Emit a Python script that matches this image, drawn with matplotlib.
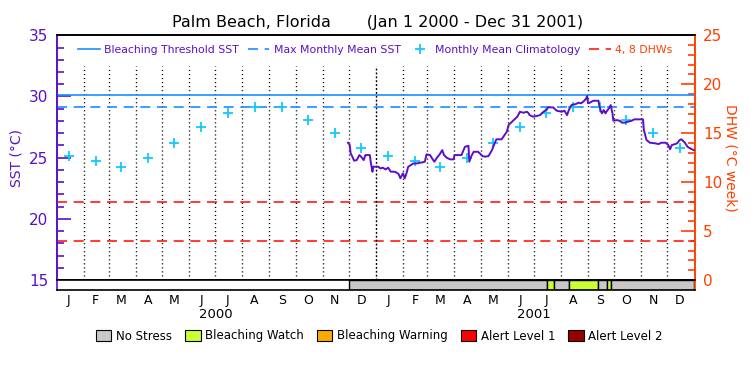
import numpy as np
import pandas as pd
import matplotlib
matplotlib.use('Agg')
import matplotlib.pyplot as plt
import matplotlib.transforms as mtransforms
from matplotlib.ticker import MultipleLocator
from matplotlib.patches import Patch

PURPLE = '#5a10c8'
ORANGE = '#ff4000'
BLUE = '#1a8cff'
CYAN = '#14c8ff'
RED = '#ff1a1a'

# monthly mean climatology (same both years)
clim = [25.13, 24.70, 24.26, 24.94, 26.20, 27.48, 28.69, 29.11, 29.11, 28.06, 26.99, 25.81]
mmm = 29.11
threshold = 30.10
dhw_levels = [4, 8]

# SST: days since 2000-01-01, degC
sst_day = [334, 336, 337, 339, 341, 344, 347, 349, 352, 354, 359, 360, 362, 363, 369, 371,
           374, 377, 380, 383, 388, 392, 394, 396, 397, 399, 401, 403, 406, 409, 413, 416,
           419, 422, 424, 428, 431, 433, 436, 439, 442, 444, 447, 451, 455, 456, 464, 468,
           472, 473, 475, 478, 483, 485, 488, 491, 495, 499, 502, 504, 510, 512, 516, 518,
           522, 525, 528, 531, 535, 539, 541, 542, 546, 550, 554, 558, 562, 563, 569, 573,
           579, 582, 585, 587, 590, 595, 598, 601, 604, 607, 608, 609, 611, 615, 621, 622,
           624, 625, 627, 629, 630, 633, 635, 636, 637, 638, 642, 645, 648, 651, 655, 659,
           662, 672, 673, 676, 680, 686, 690, 693, 698, 701, 703, 705, 709, 711, 714, 716,
           720, 723, 726, 730]
sst_val = [26.22, 26.03, 25.35, 25.08, 24.75, 24.80, 25.21, 25.08, 24.80, 25.21, 25.21, 24.67,
           23.85, 24.26, 24.26, 24.12, 24.18, 24.04, 24.18, 23.85, 23.85, 23.66, 23.31, 23.58,
           23.72, 23.31, 23.72, 24.26, 24.39, 24.53, 24.53, 24.58, 24.61, 24.67, 25.27, 25.21,
           24.86, 24.67, 25.01, 25.27, 25.62, 25.21, 25.00, 24.86, 24.86, 25.21, 25.21, 25.89,
           25.97, 24.67, 25.08, 25.48, 25.48, 25.35, 25.13, 25.08, 25.13, 25.62, 26.17, 26.50,
           26.50, 26.71, 27.12, 27.67, 27.94, 28.13, 28.35, 28.75, 28.67, 28.75, 28.62, 28.48,
           28.35, 28.40, 28.48, 28.75, 28.95, 29.11, 29.11, 28.84, 28.75, 28.84, 28.48, 28.89,
           29.30, 29.38, 29.49, 29.44, 29.60, 29.85, 30.04, 29.44, 29.49, 29.65, 29.65, 29.22,
           28.75, 28.62, 28.89, 28.62, 28.75, 29.03, 29.30, 28.95, 28.62, 28.02, 28.07, 28.02,
           27.86, 27.86, 27.94, 28.02, 28.13, 28.13, 27.26, 26.44, 26.22, 26.17, 26.11, 26.22,
           26.22, 26.03, 25.68, 26.03, 26.11, 26.17, 26.44, 26.50, 26.22, 25.89, 25.76, 25.62]

# stress bar segments
stress_start = ['2000-12-01', '2001-07-16', '2001-07-24', '2001-08-10', '2001-09-13', '2001-09-23', '2001-09-27']
stress_end = ['2001-07-16', '2001-07-24', '2001-08-10', '2001-09-13', '2001-09-23', '2001-09-27', '2002-01-01']
stress_level = [0, 1, 0, 1, 0, 1, 0]

stress_names = ['No Stress', 'Bleaching Watch', 'Bleaching Warning', 'Alert Level 1', 'Alert Level 2']
stress_colors = ['#c8c8c8', '#ccff33', '#ffaa00', '#ff0000', '#990000']
month_letters = ['J', 'F', 'M', 'A', 'M', 'J', 'J', 'A', 'S', 'O', 'N', 'D']
years = [2000, 2001]

t0 = pd.Timestamp('2000-01-01')
t1 = pd.Timestamp('2002-01-01')
sst_dates = t0 + pd.to_timedelta(sst_day, unit='D')
mid_months = [pd.Timestamp(y, m, 15) for y in years for m in range(1, 13)]
month_starts = pd.date_range('2000-02-01', '2001-12-01', freq='MS')

fig = plt.figure(figsize=(7.5, 3.75), dpi=100)
L, R = 56.5 / 750, 694.5 / 750
top, bot, barbot = 1 - 35.3 / 375, 1 - 280 / 375, 1 - 290 / 375
ax = fig.add_axes([L, bot, R - L, top - bot])
ax2 = ax.twinx()
bax = fig.add_axes([L, barbot, R - L, bot - barbot])

ax.set_xlim(t0, t1)
bax.set_xlim(t0, t1)
ax.set_ylim(15, 35)
ax2.set_ylim(0, 25)

# month dividers
for d in month_starts:
    if d == pd.Timestamp('2001-01-01'):
        ls = (0, (1.4, 1.4))
    else:
        ls = (0, (0.8, 2.1))
    ax.plot([d, d], [15, 32.5], color='k', lw=1, ls=ls, zorder=1)

h_thr = ax.axhline(threshold, color=BLUE, lw=1.2, zorder=2)
h_mmm = ax.axhline(mmm, color=BLUE, lw=1.2, ls=(0, (6, 4)), zorder=2)
h_dhw = None
for lev in dhw_levels:
    h_dhw = ax2.axhline(lev, color=RED, lw=1.2, ls=(0, (6, 4)), zorder=2)
h_clim, = ax.plot(mid_months, clim * 2, ls='none', marker='+', ms=7.5, mew=1.3, color=CYAN, zorder=3)
ax.plot(sst_dates, sst_val, color=PURPLE, lw=1.4, zorder=4)

# axis styling
ax.tick_params(axis='x', which='both', length=0, labelbottom=False)
ax2.tick_params(axis='x', which='both', length=0, labelbottom=False)
ax.yaxis.set_major_locator(MultipleLocator(5))
ax.yaxis.set_minor_locator(MultipleLocator(1))
ax.tick_params(axis='y', which='major', direction='in', length=10, width=1.2, colors=PURPLE, labelsize=11, pad=6)
ax.tick_params(axis='y', which='minor', direction='in', length=5, width=1.2, colors=PURPLE)
ax2.yaxis.set_major_locator(MultipleLocator(5))
ax2.yaxis.set_minor_locator(MultipleLocator(1))
ax2.tick_params(axis='y', which='major', direction='in', length=10, width=1.2, colors=ORANGE, labelsize=11, pad=6)
ax2.tick_params(axis='y', which='minor', direction='in', length=5, width=1.2, colors=ORANGE)
for a in (ax, ax2):
    a.spines['left'].set_color(PURPLE)
    a.spines['right'].set_color(ORANGE)
    for s in a.spines.values():
        s.set_linewidth(1.2)
ax.set_ylabel('SST (\u00b0C)', color=PURPLE, fontsize=10, labelpad=4)
ax2.set_ylabel('DHW (\u00b0C week)', color=ORANGE, fontsize=10, rotation=-90, labelpad=11)

# stress bar
for s, e, lv in zip(stress_start, stress_end, stress_level):
    bax.axvspan(pd.Timestamp(s), pd.Timestamp(e), color=stress_colors[lv], ec='black', lw=1)
bax.set_ylim(0, 1)
bax.set_yticks([])
bax.set_xticks(mid_months)
bax.set_xticklabels(month_letters * 2, fontsize=9)
bax.tick_params(axis='x', length=0, pad=3)
bax.spines['left'].set_color(PURPLE)
bax.spines['right'].set_color(ORANGE)
for s in bax.spines.values():
    s.set_linewidth(1.2)
trans = mtransforms.blended_transform_factory(bax.transData, bax.transAxes)
for y in years:
    bax.text(pd.Timestamp(y, 7, 1), -2.5, str(y), transform=trans, ha='center', va='center', fontsize=9.5)

# legends
leg = ax.legend([h_thr, h_mmm, h_clim, h_dhw],
                ['Bleaching Threshold SST', 'Max Monthly Mean SST', 'Monthly Mean Climatology', '4, 8 DHWs'],
                loc='center', bbox_to_anchor=(0.5, 0.94), ncol=4, frameon=False, fontsize=7.8,
                handlelength=2.0, handletextpad=0.4, columnspacing=0.8, borderaxespad=0)
for t, c in zip(leg.get_texts(), [PURPLE, PURPLE, PURPLE, ORANGE]):
    t.set_color(c)
ax2.set_zorder(ax.get_zorder() - 1)
ax.patch.set_visible(False)

handles = [Patch(facecolor=c, edgecolor='black', lw=0.8) for c in stress_colors]
fig.legend(handles, stress_names, loc='center', bbox_to_anchor=(0.506, 1 - 336 / 375), ncol=5,
           frameon=False, fontsize=8.5, handlelength=1.3, handleheight=1.1, handletextpad=0.4,
           columnspacing=1.1)

fig.text(0.503, 1 - 22 / 375, 'Palm Beach, Florida       (Jan 1 2000 - Dec 31 2001)',
         ha='center', va='center', fontsize=11.5)

fig.savefig('out.png', dpi=100)
